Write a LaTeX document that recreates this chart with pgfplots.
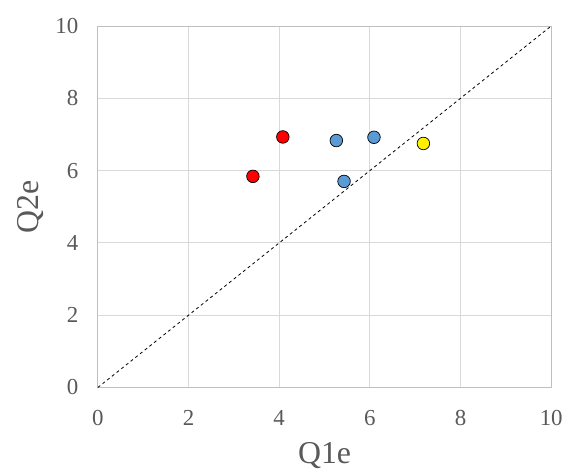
\documentclass[border=0pt]{standalone}
\usepackage{pgfplots}
\pgfplotsset{compat=1.18}
\usepackage{fontspec}
\setmainfont{Liberation Serif}
\definecolor{tickgray}{HTML}{595959}
\definecolor{gridgray}{HTML}{D9D9D9}
\definecolor{axgray}{HTML}{BFBFBF}
\definecolor{ptblue}{HTML}{5B9BD5}
\begin{document}
\begin{tikzpicture}[x=1bp,y=1bp]
\begin{axis}[
  scale only axis,
  width=454bp, height=362bp,
  xmin=0, xmax=10, ymin=0, ymax=10,
  xtick={0,2,...,10}, ytick={0,2,...,10},
  grid=major,
  major grid style={gridgray, line width=0.9bp},
  axis line style={axgray, line width=0.9bp},
  tick style={draw=none},
  ticklabel style={font=\fontsize{23}{23}\selectfont, text=tickgray},
  /pgf/number format/assume math mode=true,
  xticklabel style={yshift=-19bp},
  yticklabel style={xshift=-16bp},
  xlabel={Q1e}, ylabel={Q2e},
  label style={font=\fontsize{32}{32}\selectfont, text=tickgray},
  xlabel style={at={(axis description cs:0.5,-0.188)}, anchor=center},
  ylabel style={at={(axis description cs:-0.148,0.5)}, anchor=center},
  clip=false,
]
\addplot[black, line width=0.8bp, dash pattern=on 3bp off 3bp] coordinates {(0,0) (10,10)};
\addplot[only marks, mark=*, mark size=6.3bp, mark options={fill=red, draw=black, line width=0.7bp}]
  coordinates {(3.42,5.84) (4.08,6.93)};
\addplot[only marks, mark=*, mark size=6.3bp, mark options={fill=ptblue, draw=black, line width=0.7bp}]
  coordinates {(5.26,6.83) (6.09,6.92) (5.43,5.70)};
\addplot[only marks, mark=*, mark size=6.3bp, mark options={fill=yellow, draw=black, line width=0.7bp}]
  coordinates {(7.18,6.75)};
\end{axis}
\path[use as bounding box] (-98bp,-86bp) rectangle ++(566bp,474bp);
\end{tikzpicture}
\end{document}
